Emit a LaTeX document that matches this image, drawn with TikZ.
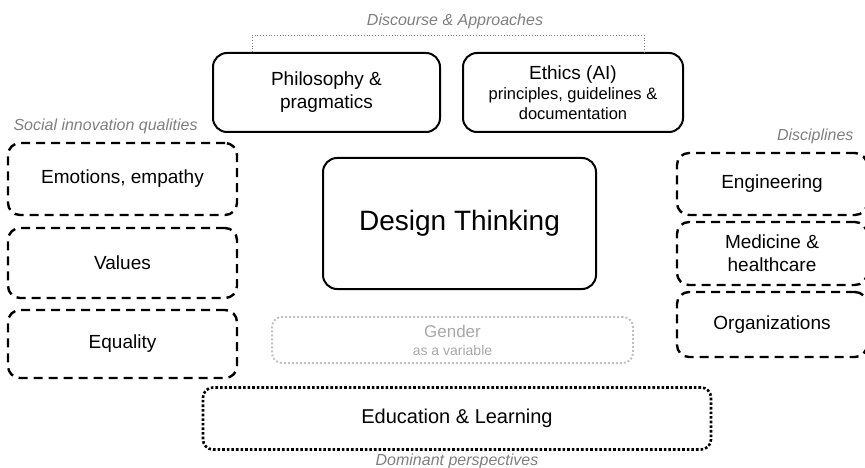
\documentclass[tikz,border=0pt]{standalone}
\usepackage{fontspec}
\setmainfont{Liberation Sans}
\usetikzlibrary{positioning}
\definecolor{Label}{HTML}{7F7F7F}
\definecolor{Faint}{HTML}{A8A8A8}
\definecolor{FaintLine}{HTML}{C2C2C2}
\newcommand\txtbox{\fontsize{19}{23}\selectfont}
\newcommand\txtsub{\fontsize{16.5}{19}\selectfont}
\newcommand\txtlab{\fontsize{16}{19}\selectfont\itshape\color{Label}}

\begin{document}
\begin{tikzpicture}[x=1pt,y=-1pt,
        sb/.style={draw,line width=2pt,rounded corners=14pt,align=center,inner sep=0pt,font=\txtbox},
        db/.style={draw,line width=2.4pt,dash pattern=on 9pt off 6pt,rounded corners=12pt,align=center,inner sep=0pt,font=\txtbox},
        brk/.style={draw=Label,line width=.8pt,dotted}]
        \useasboundingbox (0,0) rectangle (865,468);
        % top row
        \node[sb,minimum width=227pt,minimum height=79pt] (phil) at (326.5,92.5) {Philosophy \&\\pragmatics};
        \node[sb,minimum width=220pt,minimum height=79pt] (ethics) at (573,92.5) {Ethics (AI)\\[-3pt]{\txtsub principles, guidelines \&}\\[-3pt]{\txtsub documentation}};
        \node[font=\txtlab] (disc) at (455,21) {Discourse \& Approaches};
        \draw[brk] ([xshift=40pt]phil.north west) -- ++(0,-17) -| ([xshift=-40pt]ethics.north east);
        % centre
        \node[sb,minimum width=273pt,minimum height=131pt,font=\fontsize{28}{32}\selectfont] (dt) at (459.5,223.5) {Design Thinking};
        % left column
        \node[font=\txtlab,anchor=west] (soc) at (10,126) {Social innovation qualities};
        \node[db,minimum width=229pt,minimum height=72pt] (emo) at (122.5,179) {Emotions, empathy};
        \node[db,minimum width=229pt,minimum height=70pt] (val) at (122.5,263) {Values};
        \node[db,minimum width=229pt,minimum height=68pt] (equ) at (122.5,344) {Equality};
        % right column
        \node[font=\txtlab,anchor=east] (disci) at (857,136) {Disciplines};
        \node[db,minimum width=190pt,minimum height=62pt] (eng) at (772,184) {Engineering};
        \node[db,minimum width=190pt,minimum height=63pt] (med) at (772,253.5) {Medicine \&\\healthcare};
        \node[db,minimum width=190pt,minimum height=65pt] (org) at (772,324.5) {Organizations};
        % bottom
        \node[draw=FaintLine,line width=2pt,dotted,rounded corners=10pt,minimum width=361pt,minimum height=46pt,align=center,text=Faint,font=\fontsize{17}{19}\selectfont] (gen) at (452.5,340) {Gender\\[-1pt]{\fontsize{14}{16}\selectfont as a variable}};
        \node[draw,line width=2.6pt,dotted,rounded corners=10pt,minimum width=508pt,minimum height=62pt,font=\fontsize{20}{24}\selectfont] (edu) at (457,418.5) {Education \& Learning};
        \node[font=\txtlab,below=0pt of edu] (dom) {Dominant perspectives};
      \end{tikzpicture}
\end{document}
